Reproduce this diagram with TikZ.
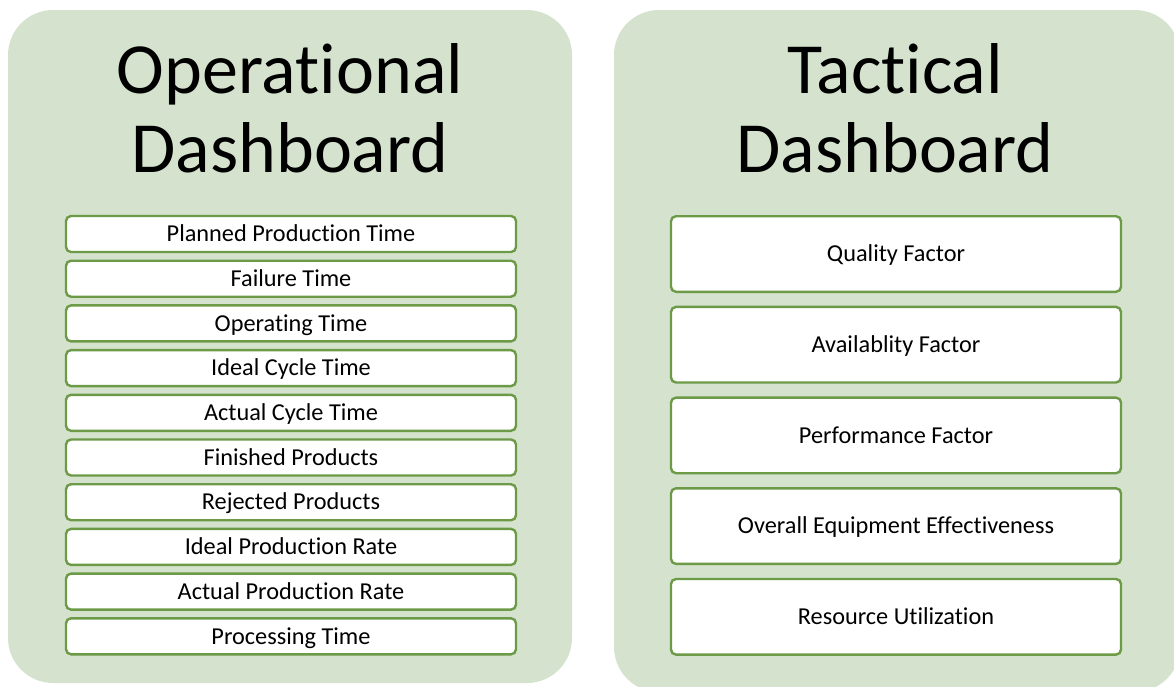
\documentclass[tikz,border=0pt]{standalone}
\usepackage{fontspec}
\setmainfont{Carlito}[Ligatures={NoCommon}]
\usepackage{tikz}
\usetikzlibrary{positioning}

\definecolor{panelgreen}{RGB}{213,227,206}
\definecolor{boxgreen}{RGB}{108,154,70}

\tikzset{
    panel/.style={fill=panelgreen, rounded corners=45pt},
    title/.style={align=center, font=\fontsize{72}{79}\selectfont, inner sep=0pt},
    kpi/.style={draw=boxgreen, line width=2.4pt, fill=white, rounded corners=5pt,
        minimum width=450pt, inner sep=0pt, font=\fontsize{24.3}{28}\selectfont,
        text height=15.5pt, text depth=0pt},
    opbox/.style={kpi, minimum height=36pt},
    tacbox/.style={kpi, minimum height=75.6pt},
}

\begin{document}
\begin{tikzpicture}[x=1pt, y=-1pt]
        \useasboundingbox (0,0) rectangle (1174,686);
        \fill[panel] (8,10) rectangle (572,683);
        \fill[panel] (614,10) rectangle (1180,692);

        \node[title, anchor=base] (optitle) at (290,172) {Operational\\Dashboard};
        \node[title, anchor=base] (tactitle) at (895,172) {Tactical\\Dashboard};

        \node[opbox] (planned) at (291,234) {Planned Production Time};
        \node[opbox, below=6.3pt of planned] (failure) {Failure Time};
        \node[opbox, below=6.3pt of failure] (operating) {Operating Time};
        \node[opbox, below=6.3pt of operating] (idealcycle) {Ideal Cycle Time};
        \node[opbox, below=6.3pt of idealcycle] (actualcycle) {Actual Cycle Time};
        \node[opbox, below=6.3pt of actualcycle] (finished) {Finished Products};
        \node[opbox, below=6.3pt of finished] (rejected) {Rejected Products};
        \node[opbox, below=6.3pt of rejected] (idealrate) {Ideal Production Rate};
        \node[opbox, below=6.3pt of idealrate] (actualrate) {Actual Production Rate};
        \node[opbox, below=6.3pt of actualrate] (processing) {Processing Time};

        \node[tacbox] (quality) at (896,254) {Quality Factor};
        \node[tacbox, below=12.7pt of quality] (availability) {Availablity Factor};
        \node[tacbox, below=12.7pt of availability] (performance) {Performance Factor};
        \node[tacbox, below=12.7pt of performance] (oee) {Overall Equipment Effectiveness};
        \node[tacbox, below=12.7pt of oee] (resource) {Resource Utilization};
    \end{tikzpicture}
\end{document}
